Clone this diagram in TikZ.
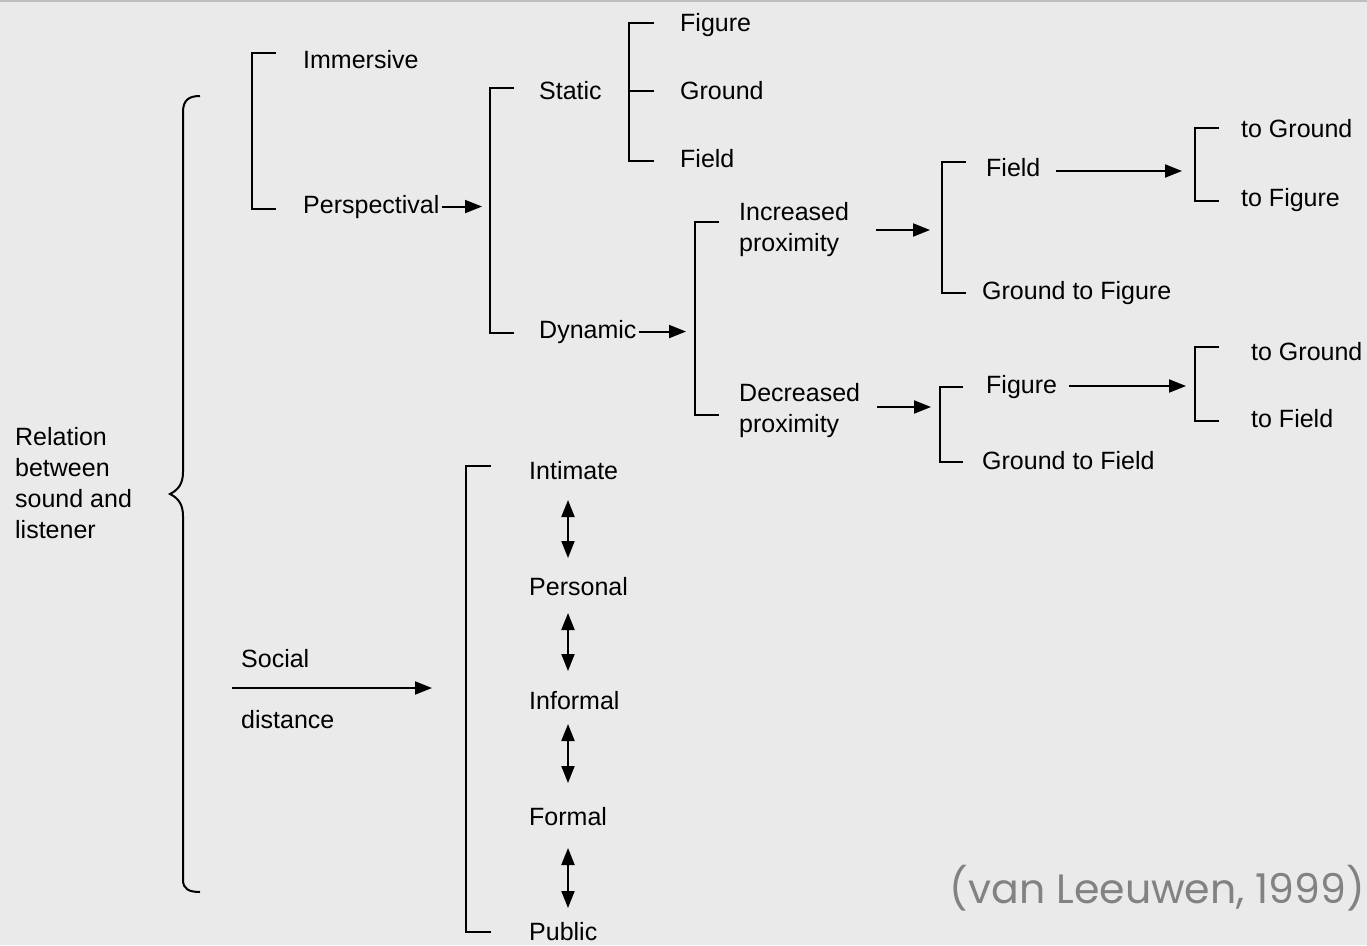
\documentclass[tikz,border=0pt]{standalone}
\usepackage{fontspec}
\setmainfont{Liberation Sans}
\newfontfamily\citefont{Poppins}
\usetikzlibrary{arrows.meta}
\definecolor{bg}{HTML}{EAEAEA}
\definecolor{citegray}{HTML}{828282}
\definecolor{topgray}{HTML}{BDBDBD}
\tikzset{
  lbl/.style={anchor=base west, inner sep=0pt, font=\fontsize{25}{31}\selectfont},
  mlbl/.style={anchor=north west, inner sep=0pt, align=left, font=\fontsize{25}{31}\selectfont},
  brk/.style={line width=2pt, line cap=butt, line join=miter},
  arr/.style={line width=2pt, -{Triangle[length=17pt,width=13pt]}},
  darr/.style={line width=2pt, {Triangle[length=17pt,width=13pt]}-{Triangle[length=17pt,width=13pt]}},
}
\begin{document}
\begin{tikzpicture}[x=1pt,y=-1pt]
\fill[bg] (0,0) rectangle (1367,945);
\useasboundingbox (0,0) rectangle (1367,945);
\draw[topgray, line width=2pt] (0,1) -- (1367,1);

% text nodes
\node[mlbl] (relation) at (15,427) {Relation\\between\\sound and\\listener};
\node[lbl] (immersive) at (303,68) {Immersive};
\node[lbl] (persp) at (303,213) {Perspectival};
\node[lbl] (static) at (539,99) {Static};
\node[lbl] (dynamic) at (539,338) {Dynamic};
\node[lbl] (figure) at (680,31) {Figure};
\node[lbl] (ground) at (680,99) {Ground};
\node[lbl] (field) at (680,167) {Field};
\node[mlbl] (incr) at (739,202) {Increased\\proximity};
\node[mlbl] (decr) at (739,383) {Decreased\\proximity};
\node[lbl] (field2) at (986,176) {Field};
\node[lbl] (g2fig) at (982,299) {Ground to Figure};
\node[lbl] (toground1) at (1241,137) {to Ground};
\node[lbl] (tofigure) at (1241,206) {to Figure};
\node[lbl] (figure2) at (986,393) {Figure};
\node[lbl] (g2field) at (982,469) {Ground to Field};
\node[lbl] (toground2) at (1251,360) {to Ground};
\node[lbl] (tofield) at (1251,427) {to Field};
\node[lbl] (social) at (241,667) {Social};
\node[lbl] (distance) at (241,728) {distance};
\node[lbl] (intimate) at (529,479) {Intimate};
\node[lbl] (personal) at (529,595) {Personal};
\node[lbl] (informal) at (529,709) {Informal};
\node[lbl] (formal) at (529,825) {Formal};
\node[lbl] (public) at (529,940) {Public};
\node[anchor=base east, inner sep=0pt, text=citegray, font=\citefont\fontsize{41}{50}\selectfont] (cite) at (1365,903) {(van Leeuwen, 1999)};

% main brace
\draw[line width=2pt] (200,96) .. controls (189,96) and (183,100) .. (183,112)
  -- (183,472) .. controls (183,484) and (178,490) .. (170,494)
  .. controls (178,498) and (183,504) .. (183,516)
  -- (183,880) .. controls (183,889) and (189,892) .. (200,892);

% brackets
\draw[brk] (276,53) -| (252,209) -- (276,209);
\draw[brk] (514,88) -| (490,333) -- (514,333);
\draw[brk] (654,23) -| (629,161) -- (654,161);
\draw[brk] (629,91) -- (654,91);
\draw[brk] (719,222) -| (695,415) -- (719,415);
\draw[brk] (966,162) -| (942,293) -- (966,293);
\draw[brk] (1219,128) -| (1195,201) -- (1219,201);
\draw[brk] (963,387) -| (940,462) -- (963,462);
\draw[brk] (1219,347) -| (1195,421) -- (1219,421);
\draw[brk] (491,466) -| (466,932) -- (491,932);

% arrow end points
\coordinate (pTip) at (482,207);
\coordinate (dTip) at (686,333);
\coordinate (ia) at (876,230); \coordinate (ib) at (930,230);
\coordinate (da) at (877,407); \coordinate (db) at (931,407);
\coordinate (fa) at (1056,171); \coordinate (fb) at (1182,171);
\coordinate (ga) at (1069,386); \coordinate (gb) at (1186,386);
\coordinate (sa) at (232,688); \coordinate (sb) at (432,688);
\coordinate (d1a) at (568,500); \coordinate (d1b) at (568,558);
\coordinate (d2a) at (568,613); \coordinate (d2b) at (568,671);
\coordinate (d3a) at (568,724); \coordinate (d3b) at (568,783);
\coordinate (d4a) at (568,848); \coordinate (d4b) at (568,908);

% arrows
\draw[arr, shorten <=2pt] (persp.east) -- (persp.east -| pTip);
\draw[arr, shorten <=2pt] (dynamic.east) -- (dynamic.east -| dTip);
\draw[arr] (ia) -- (ib);
\draw[arr] (da) -- (db);
\draw[arr] (fa) -- (fb);
\draw[arr] (ga) -- (gb);
\draw[arr] (sa) -- (sb);
\draw[darr] (d1a) -- (d1b);
\draw[darr] (d2a) -- (d2b);
\draw[darr] (d3a) -- (d3b);
\draw[darr] (d4a) -- (d4b);
\end{tikzpicture}
\end{document}
